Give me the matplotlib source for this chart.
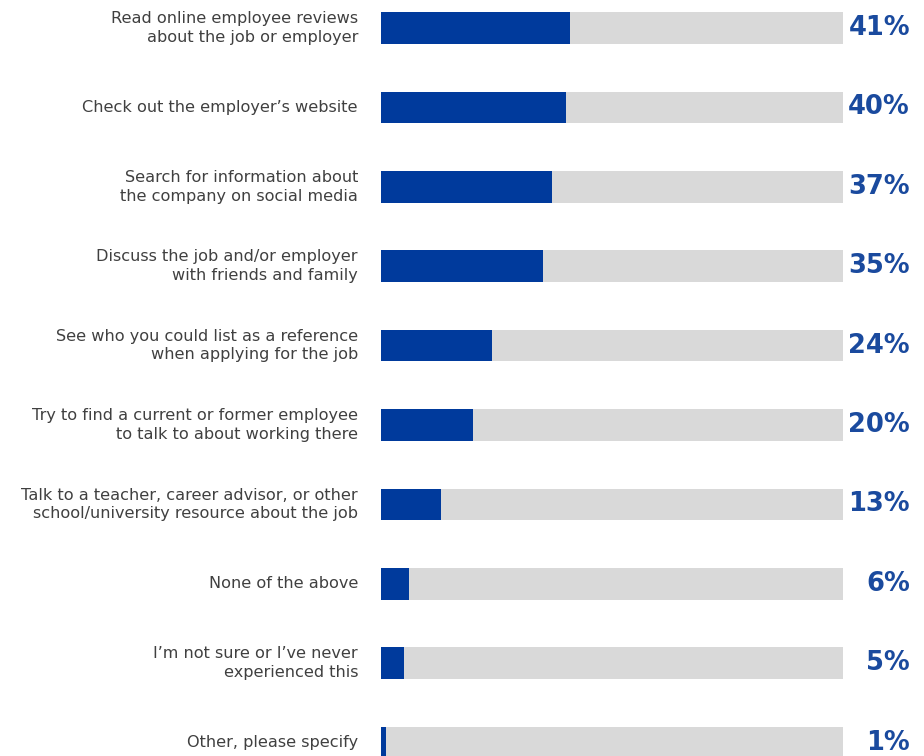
import matplotlib
matplotlib.use("Agg")
import matplotlib.pyplot as plt

categories = [
    "Read online employee reviews\nabout the job or employer",
    "Check out the employer\u2019s website",
    "Search for information about\nthe company on social media",
    "Discuss the job and/or employer\nwith friends and family",
    "See who you could list as a reference\nwhen applying for the job",
    "Try to find a current or former employee\nto talk to about working there",
    "Talk to a teacher, career advisor, or other\nschool/university resource about the job",
    "None of the above",
    "I\u2019m not sure or I\u2019ve never\nexperienced this",
    "Other, please specify",
]
values = [41, 40, 37, 35, 24, 20, 13, 6, 5, 1]

BLUE = "#003A9C"
LABEL_BLUE = "#1A4A9E"
GREY = "#D9D9D9"
TEXT = "#404040"

fig = plt.figure(figsize=(9.24, 7.56), dpi=100)
ax = fig.add_axes([381 / 924, 0, 462 / 924, 1])

ypos = list(range(len(values)))
ax.barh(ypos, [100] * len(values), height=0.40, color=GREY, edgecolor="none")
ax.barh(ypos, values, height=0.40, color=BLUE, edgecolor="none")

for y, v, cat in zip(ypos, values, categories):
    # percentage, right-aligned past the end of the grey track
    ax.annotate(f"{v}%", xy=(100, y), xytext=(67, 0), textcoords="offset pixels",
                ha="right", va="center", fontsize=18.5, fontweight="bold",
                color=LABEL_BLUE, annotation_clip=False)
    ax.annotate(cat, xy=(0, y), xytext=(-23, 0), textcoords="offset pixels",
                ha="right", va="center", fontsize=11.6, color=TEXT,
                linespacing=1.3, annotation_clip=False)

ax.set_xlim(0, 100)
ax.set_ylim(9.169, -0.353)
ax.axis("off")

fig.savefig("out.png", dpi=100)
